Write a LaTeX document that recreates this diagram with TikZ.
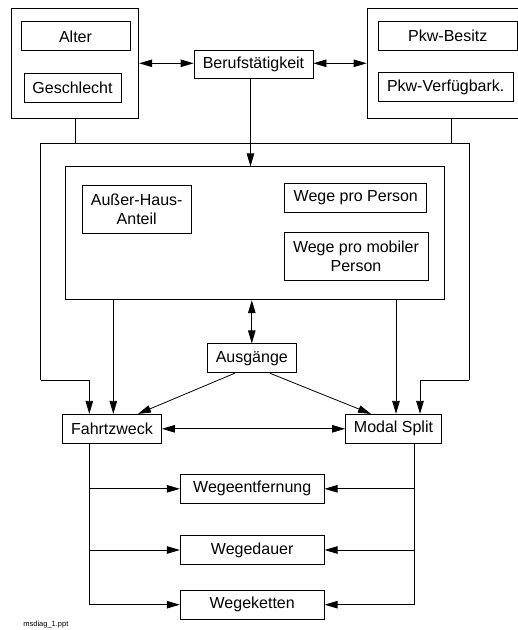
\documentclass[tikz,border=0pt]{standalone}
\usepackage{fontspec}
\setmainfont{Liberation Sans}
\usetikzlibrary{arrows.meta}

\begin{document}
\begin{tikzpicture}[x=1pt, y=-1pt, line width=0.8pt, >={Triangle[length=13pt,width=7.5pt]},
    box/.style = {draw, inner sep=0pt, align=center, minimum height=29pt, font=\fontsize{16}{19}\selectfont},
    group/.style = {draw, inner sep=0pt}]

    \useasboundingbox (0,0) rectangle (518,630);

    \node[group, minimum width=127pt, minimum height=110pt] (lgrp) at (75.3,63.3) {};
    \node[box, minimum width=109pt] (alter) at (75.5,36.3) {Alter};
    \node[box, minimum width=97pt] (geschl) at (72.5,87.5) {Geschlecht};

    \node[group, minimum width=160pt, minimum height=110pt] (rgrp) at (447,63.3) {};
    \node[box, minimum width=139pt] (besitz) at (447.8,36.2) {Pkw-Besitz};
    \node[box, minimum width=135pt] (verf) at (445.7,87.3) {Pkw-Verfügbark.};

    \node[box, minimum width=119pt, minimum height=28pt] (beruf) at (253.5,64.5) {Berufstätigkeit};

    \node[group, minimum width=379pt, minimum height=133pt] (haupt) at (255,233.3) {};
    \node[box, minimum width=109pt, minimum height=48pt] (aussen) at (136.7,209.2) {Außer-Haus-\\Anteil};
    \node[box, minimum width=142pt] (wpp) at (355.8,198) {Wege pro Person};
    \node[box, minimum width=144pt, minimum height=48pt] (wpmp) at (356,256.5) {Wege pro mobiler\\Person};

    \node[box, minimum width=89pt] (ausg) at (251.8,358.3) {Ausgänge};
    \node[box, minimum width=99pt] (fahrt) at (112,428.8) {Fahrtzweck};
    \node[box, minimum width=96pt] (modal) at (393.5,428.8) {Modal Split};

    \node[box, minimum width=144pt] (went) at (252.2,488.8) {Wegeentfernung};
    \node[box, minimum width=144pt] (wdau) at (252.2,550) {Wegedauer};
    \node[box, minimum width=144pt] (wket) at (252.2,604.7) {Wegeketten};

    \node[anchor=west, inner sep=0pt, font=\fontsize{7.5}{9}\selectfont] (datei) at (23,625) {msdiag\_1.ppt};

    \coordinate (bl) at (40.7,143);
    \coordinate (br) at (469,143);
    \coordinate (bl2) at (40.7,380);
    \coordinate (br2) at (469,380);
    \coordinate (fl) at (89.3,604.7);
    \coordinate (fr) at (414.3,604.7);

    \draw[<->] (lgrp.east) -- (lgrp.east -| beruf.west);
    \draw[<->] (rgrp.west -| beruf.east) -- (rgrp.west);

    \draw (lgrp.south) -- (lgrp.south |- bl);
    \draw ([xshift=4pt]rgrp.south) -- ([xshift=4pt]rgrp.south |- br);
    \draw (bl2) -- (bl) -- (br) -- (br2);
    \draw[->] ([xshift=-3pt]beruf.south) -- ([xshift=-3pt]beruf.south |- haupt.north);

    \draw[->] (bl2) -| (fl |- fahrt.north);
    \draw[->] (br2) -| ([xshift=26.5pt]modal.north);
    \draw[->] ([xshift=1.3pt]fahrt.north |- haupt.south) -- ([xshift=1.3pt]fahrt.north);
    \draw[->] ([xshift=2.5pt]modal.north |- haupt.south) -- ([xshift=2.5pt]modal.north);
    \draw[<->] (ausg.north |- haupt.south) -- (ausg.north);

    \draw[->] ([xshift=-17pt]ausg.south) -- ([xshift=26pt]fahrt.north);
    \draw[->] ([xshift=18pt]ausg.south) -- ([xshift=-22.5pt]modal.north);
    \draw[<->] (fahrt) -- (modal);

    \draw (fl |- fahrt.south) -- (fl);
    \draw (fr |- modal.south) -- (fr);
    \foreach \w in {went, wdau, wket} {
        \draw[->] (fl |- \w.west) -- (\w.west);
        \draw[->] (fr |- \w.east) -- (\w.east);
    }

\end{tikzpicture}
\end{document}
